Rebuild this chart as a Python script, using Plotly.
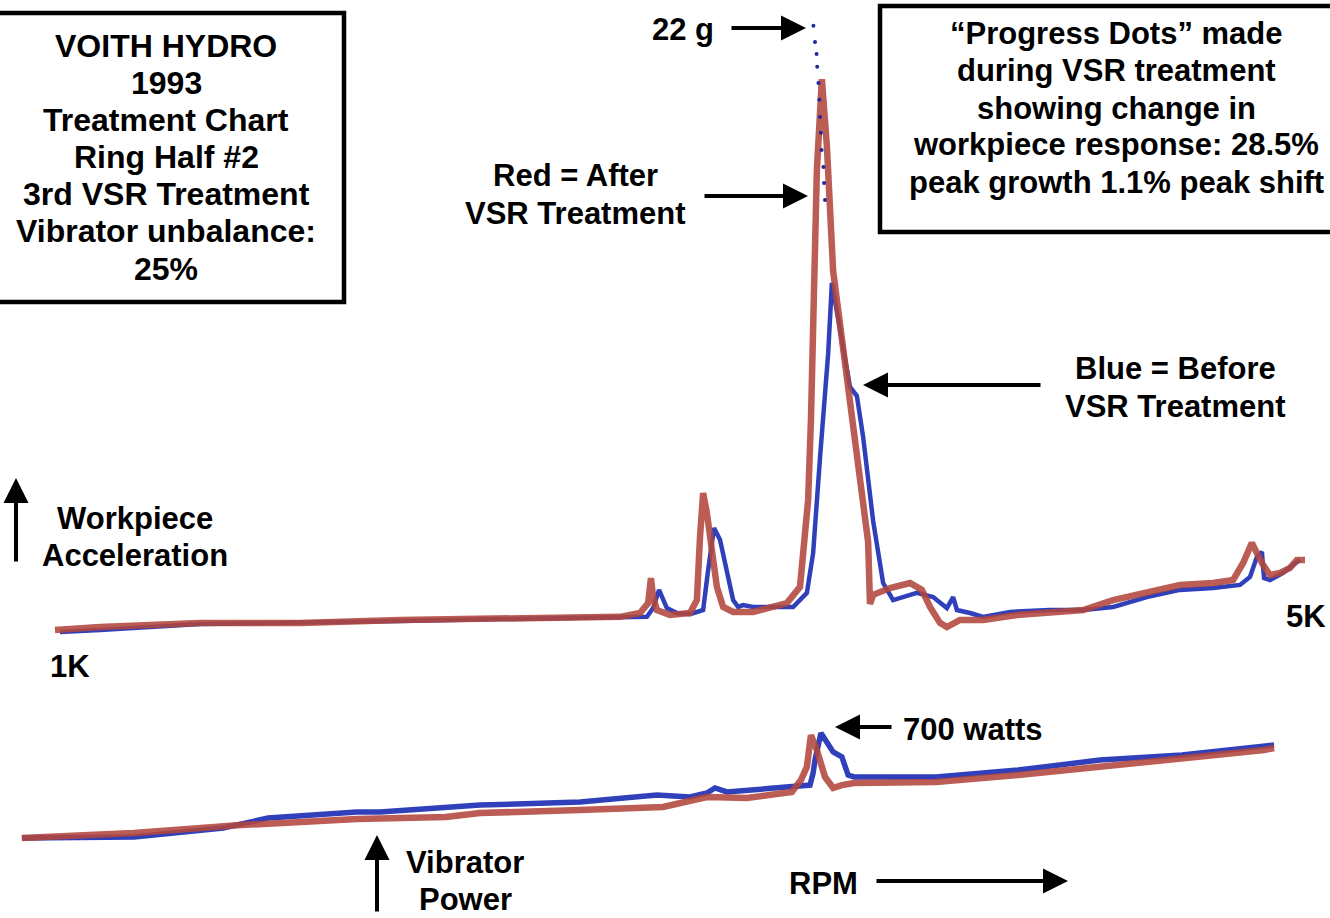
import plotly.graph_objects as go

# ---------------- data ----------------
# Workpiece acceleration (g) vs RPM
after_rpm = [1000, 1144, 1464, 1784, 2104, 2424, 2744, 2808, 2872, 2898, 2907, 2914, 2926, 2968,
             3032, 3054, 3064, 3074, 3086, 3102, 3118, 3138, 3170, 3234, 3342, 3384, 3400, 3410,
             3419, 3426, 3438, 3454, 3470, 3490, 3534, 3554, 3576, 3602, 3608, 3618, 3672, 3736,
             3774, 3800, 3832, 3854, 3896, 3970, 4078, 4184, 4290, 4386, 4494, 4600, 4706, 4770,
             4802, 4830, 4846, 4862, 4888, 4920, 4952, 4974, 5000]
after_g = [0.07, 0.18, 0.33, 0.33, 0.44, 0.47, 0.55, 0.55, 0.69, 1.05, 1.96, 1.27, 0.8, 0.62,
           0.69, 1.16, 3.45, 5.05, 4.33, 2.87, 1.64, 0.91, 0.73, 0.73, 1.05, 1.64, 3.45, 4.8,
           7.71, 11.78, 16.8, 20.1, 17.67, 13.13, 9.35, 7.82, 5.56, 3.27, 1.02, 1.35, 1.6, 1.78,
           1.53, 0.91, 0.33, 0.18, 0.44, 0.44, 0.62, 0.73, 0.8, 1.16, 1.45, 1.71, 1.78, 1.89,
           2.51, 3.24, 2.87, 2.51, 2.07, 2.15, 2.33, 2.62, 2.62]

before_rpm = [1016, 1144, 1464, 1784, 2104, 2424, 2744, 2894, 2914, 2933, 2958, 2990, 3032, 3074,
              3090, 3109, 3128, 3150, 3170, 3186, 3202, 3234, 3362, 3406, 3426, 3448, 3474, 3486,
              3502, 3544, 3566, 3586, 3618, 3650, 3682, 3714, 3758, 3810, 3854, 3874, 3886, 3928,
              3970, 4056, 4184, 4290, 4386, 4494, 4600, 4706, 4792, 4824, 4846, 4862, 4869, 4888,
              4930, 4962, 4984]
before_g = [0.0, 0.07, 0.29, 0.33, 0.4, 0.47, 0.55, 0.55, 0.87, 1.53, 0.87, 0.69, 0.65, 0.8,
            2.25, 3.78, 3.35, 2.25, 1.16, 0.91, 0.98, 0.91, 0.91, 1.42, 2.87, 6.33, 10.11, 12.69,
            11.64, 8.91, 8.58, 7.09, 4.04, 1.78, 1.16, 1.27, 1.42, 1.27, 0.87, 1.27, 0.8, 0.69,
            0.55, 0.73, 0.8, 0.8, 0.91, 1.27, 1.53, 1.6, 1.71, 2.0, 2.73, 2.91, 1.96, 1.89,
            2.15, 2.44, 2.62]

# "Progress dots" recorded during treatment
dots_rpm = [3427, 3432, 3437, 3439, 3443, 3446, 3448, 3451, 3453, 3459, 3461, 3464]
dots_g = [22.04, 21.45, 21.02, 20.55, 19.96, 19.35, 18.73, 18.15, 17.53, 16.91, 16.33, 15.71]

# Vibrator power (watts) vs RPM
after_p_rpm = [894, 1253, 1595, 1966, 2251, 2360, 2680, 2946, 3086, 3214, 3358, 3387, 3406,
               3419, 3438, 3464, 3490, 3518, 3557, 3819, 4082, 4344, 4606, 4869, 4901]
after_w = [196, 220, 258, 287, 297, 316, 330, 345, 393, 388, 417, 474, 537,
           690, 618, 489, 436, 450, 460, 465, 498, 537, 580, 618, 628]

before_p_rpm = [894, 1109, 1253, 1538, 1682, 1966, 2040, 2360, 2680, 2926, 3032, 3086, 3112,
                3150, 3266, 3374, 3416, 3426, 3432, 3451, 3470, 3490, 3518, 3538, 3557, 3819,
                4082, 4344, 4606, 4869, 4901]
before_w = [196, 196, 201, 244, 292, 321, 321, 354, 369, 402, 393, 412, 436,
            417, 431, 441, 450, 508, 570, 700, 657, 609, 585, 498, 489, 489,
            522, 570, 594, 642, 642]

RED = "#b2473d"
BLUE = "#3040bb"
W, H = 1330, 918
FONT = "Arial, Liberation Sans, sans-serif"


def px(x):
    return x / W


def py(y):
    return 1 - y / H


fig = go.Figure()
fig.add_trace(go.Scatter(x=before_rpm, y=before_g, mode="lines",
                         line=dict(color=BLUE, width=4.5), yaxis="y"))
fig.add_trace(go.Scatter(x=after_rpm, y=after_g, mode="lines", opacity=0.88,
                         line=dict(color=RED, width=6.5), yaxis="y"))
fig.add_trace(go.Scatter(x=dots_rpm, y=dots_g, mode="markers",
                         marker=dict(color="#1f2a9a", size=4), yaxis="y"))
fig.add_trace(go.Scatter(x=before_p_rpm, y=before_w, mode="lines",
                         line=dict(color=BLUE, width=5.5), yaxis="y2"))
fig.add_trace(go.Scatter(x=after_p_rpm, y=after_w, mode="lines", opacity=0.88,
                         line=dict(color=RED, width=6.5), yaxis="y2"))

ann = []


def text(x, y, s, size=31):
    ann.append(dict(x=px(x), y=py(y), xref="paper", yref="paper", text="<b>%s</b>" % s,
                    showarrow=False, xanchor="center", yanchor="middle",
                    font=dict(family=FONT, size=size, color="black")))


def arrow(tipx, tipy, tailx, taily):
    ann.append(dict(x=px(tipx), y=py(tipy), xref="paper", yref="paper", text="",
                    showarrow=True, ax=tailx - tipx, ay=taily - tipy,
                    arrowhead=2, arrowsize=1.25, arrowwidth=4, arrowcolor="black",
                    standoff=0, startstandoff=0))


left_lines = ["VOITH HYDRO", "1993", "Treatment Chart", "Ring Half #2",
              "3rd VSR Treatment", "Vibrator unbalance:", "25%"]
for i, s in enumerate(left_lines):
    text(166, 46 + i * 37.1, s, 32)

right_lines = ["\u201cProgress Dots\u201d made", "during VSR treatment", "showing change in",
               "workpiece response: 28.5%", "peak growth 1.1% peak shift"]
for i, s in enumerate(right_lines):
    text(1116, 34 + i * 37, s, 31)

text(683, 30, "22 g")
arrow(806, 28, 730, 28)
text(575, 175, "Red = After")
text(575, 213, "VSR Treatment")
arrow(808, 196, 703, 196)
text(1175, 368, "Blue = Before")
text(1175, 406, "VSR Treatment")
arrow(863, 385, 1042, 385)
text(135, 518, "Workpiece")
text(135, 555, "Acceleration")
arrow(16, 478, 16, 563)
text(70, 666, "1K")
text(1306, 616, "5K")
text(973, 729, "700 watts")
arrow(835, 727, 893, 727)
text(465, 862, "Vibrator")
text(465, 899, "Power")
arrow(377, 835, 377, 913)
text(823, 883, "RPM")
arrow(1068, 881, 875, 881)

shapes = [
    dict(type="rect", xref="paper", yref="paper", x0=px(-6), x1=px(344), y0=py(13), y1=py(302),
         line=dict(color="black", width=4.5)),
    dict(type="rect", xref="paper", yref="paper", x0=px(880), x1=px(1345), y0=py(6), y1=py(232),
         line=dict(color="black", width=4.5)),
]

fig.update_layout(
    width=W, height=H, autosize=False,
    margin=dict(l=0, r=0, t=0, b=0),
    paper_bgcolor="white", plot_bgcolor="white",
    showlegend=False,
    xaxis=dict(range=[824, 5080], visible=False, fixedrange=True),
    yaxis=dict(range=[-10.4, 22.98], visible=False, fixedrange=True),
    yaxis2=dict(range=[-188, 4218.4], visible=False, overlaying="y", fixedrange=True),
    annotations=ann, shapes=shapes,
)

fig.write_html("out.html", config={"displayModeBar": False},
               post_script="document.body.style.margin='0';document.body.style.overflow='hidden';")
